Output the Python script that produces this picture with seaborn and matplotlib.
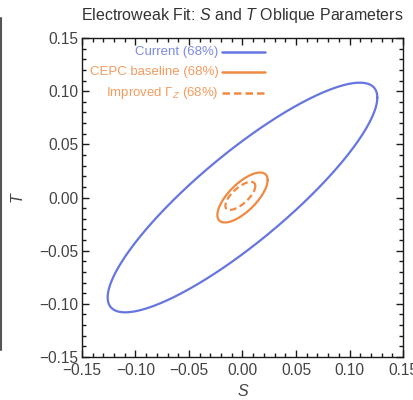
import numpy as np
import pandas as pd
import matplotlib
matplotlib.use("Agg")
import matplotlib.pyplot as plt
import seaborn as sns
from matplotlib.ticker import MultipleLocator, FuncFormatter

# Ellipse parameters (68% contours)
labels = ["Current (68%)", "CEPC baseline (68%)", "Improved $\\Gamma_Z$ (68%)"]
center_S = [0.0, 0.0, -0.002]
center_T = [0.0, 0.0, 0.0015]
half_S = [0.126, 0.0235, 0.014]
half_T = [0.108, 0.0235, 0.0132]
rho = [0.87, 0.70, 0.70]
colors = ["#6676e0", "#f08a42", "#f08a42"]
dashes = ["-", "-", (0, (3, 1.6))]

sns.set_style("ticks")
plt.rcParams["font.family"] = ["Liberation Sans", "DejaVu Sans"]
plt.rcParams["mathtext.fontset"] = "custom"
plt.rcParams["mathtext.rm"] = "Liberation Sans"
plt.rcParams["mathtext.it"] = "Liberation Sans:italic"

fig = plt.figure(figsize=(4.13, 4.0), dpi=100)
ax = fig.add_axes([0.1985, 0.1075, 0.7773, 0.7975])

t = np.linspace(0, 2 * np.pi, 400)
for i, lab in enumerate(labels):
    # ellipse with given extents and correlation
    s = center_S[i] + half_S[i] * np.cos(t)
    tt = center_T[i] + half_T[i] * (rho[i] * np.cos(t) + np.sqrt(1 - rho[i] ** 2) * np.sin(t))
    df = pd.DataFrame({"S": s, "T": tt})
    sns.lineplot(data=df, x="S", y="T", sort=False, estimator=None, ax=ax,
                 color=colors[i], lw=1.6, linestyle=dashes[i])

ax.set_xlim(-0.15, 0.15)
ax.set_ylim(-0.15, 0.15)
fmt = FuncFormatter(lambda v, p: f"{v:.2f}".replace("-", "\u2212"))
for axis in (ax.xaxis, ax.yaxis):
    axis.set_major_locator(MultipleLocator(0.05))
    axis.set_minor_locator(MultipleLocator(0.01))
    axis.set_major_formatter(fmt)
ax.tick_params(which="major", direction="in", length=5, width=1.0, color="#1a1a1a",
               top=True, right=True, labelcolor="#444444", labelsize=11.2)
ax.tick_params(which="minor", direction="in", length=3, width=1.0, color="#1a1a1a",
               top=True, right=True)
ax.tick_params(axis="x", which="major", pad=4.5)
ax.tick_params(axis="y", which="major", pad=2.5)
for sp in ax.spines.values():
    sp.set_linewidth(1.0)
    sp.set_color("#1a1a1a")

ax.set_xlabel("S", fontstyle="italic", color="#444444", fontsize=11.5, labelpad=4)
ax.set_ylabel("T", fontstyle="italic", color="#444444", fontsize=11.5, labelpad=11)
ax.set_title("Electroweak Fit: $\\mathit{S}$ and $\\mathit{T}$ Oblique Parameters",
             fontsize=11.5, color="#333333", pad=13)

# legend drawn in Mathematica style: text then line sample
leg_y = [0.955, 0.892, 0.829]
for i, lab in enumerate(labels):
    ax.text(0.425, leg_y[i], lab, transform=ax.transAxes, ha="right", va="center",
            color=colors[i], fontsize=9.5, alpha=0.85)
    ax.plot([0.435, 0.57], [leg_y[i], leg_y[i]], transform=ax.transAxes,
            color=colors[i], lw=1.8, linestyle=dashes[i])

# thin dark edge at the left of the image
fig.add_artist(plt.Line2D([0.002, 0.002], [0.125, 0.955], transform=fig.transFigure,
                          color="#555555", lw=1.5))

fig.savefig("out.png", dpi=100)
